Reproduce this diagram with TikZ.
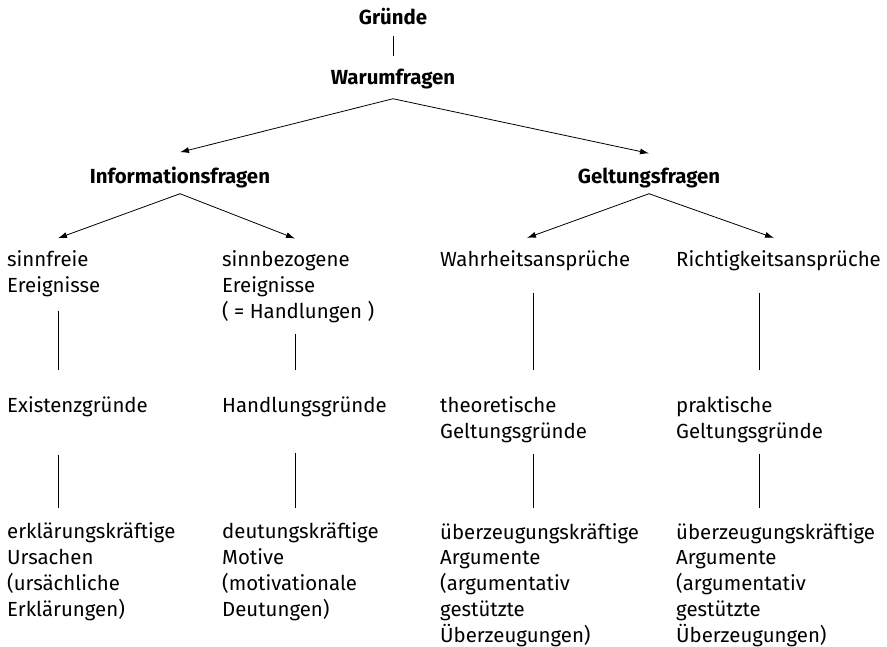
\documentclass[tikz,border=0pt]{standalone}
\usepackage{fontspec}
\setmainfont{Fira Sans}
\usetikzlibrary{arrows.meta}

\begin{document}
\begin{tikzpicture}[x=1pt,y=-1pt,
  every node/.style={inner sep=0pt,font=\fontsize{20.4}{25.7}\selectfont},
  title/.style={anchor=base,font=\fontsize{20.4}{25.7}\selectfont\bfseries},
  txt/.style={anchor=base west,align=left},
  con/.style={line width=0.8pt},
  arr/.style={con,-{Latex[length=9pt,width=6pt]}}]
\useasboundingbox (0,0) rectangle (887,646);

% columns of the vertical lines
\coordinate (k1) at (58,0);
\coordinate (k2) at (295,0);
\coordinate (k3) at (533,0);
\coordinate (k4) at (759,0);

\node[title] (gruende) at (393,24) {Gründe};
\node[title] (warum) at (393,84) {Warumfragen};
\node[title] (info) at (180,183) {Informationsfragen};
\node[title] (geltung) at (649,183) {Geltungsfragen};

% first row (base = last line)
\node[txt] (sinnfrei) at (7,292) {sinnfreie\\Ereignisse};
\node[txt] (sinnbez) at (222,318) {sinnbezogene\\Ereignisse\\( = Handlungen )};
\node[txt] (wahr) at (440,266) {Wahrheitsansprüche};
\node[txt] (richtig) at (676,266) {Richtigkeitsansprüche};

% second row
\node[txt] (exist) at (7,412) {Existenzgründe};
\node[txt] (handl) at (222,412) {Handlungsgründe};
\node[txt] (theo) at (440,438) {theoretische\\Geltungsgründe};
\node[txt] (prakt) at (676,438) {praktische\\Geltungsgründe};

% third row
\node[txt] (ursachen) at (7,616) {erklärungskräftige\\Ursachen\\(ursächliche\\Erklärungen)};
\node[txt] (motive) at (222,616) {deutungskräftige\\Motive\\(motivationale\\Deutungen)};
\node[txt] (argtheo) at (440,642) {überzeugungskräftige\\Argumente\\(argumentativ\\gestützte\\Überzeugungen)};
\node[txt] (argprakt) at (676,642) {überzeugungskräftige\\Argumente\\(argumentativ\\gestützte\\Überzeugungen)};

\draw[con,shorten <=11pt,shorten >=12pt] (gruende) -- (warum);

\draw[arr] ([yshift=-10pt]warum.south) -- ([yshift=14pt]info.north);
\draw[arr] ([yshift=-10pt]warum.south) -- ([yshift=14pt]geltung.north);
\draw[arr] ([yshift=-6pt]info.south) -- ([yshift=12pt]sinnfrei.north -| k1);
\draw[arr] ([yshift=-6pt]info.south) -- ([yshift=12pt]sinnbez.north -| k2);
\draw[arr] ([yshift=-6pt]geltung.south) -- ([yshift=12pt,xshift=-6pt]wahr.north -| k3);
\draw[arr] ([yshift=-6pt]geltung.south) -- ([yshift=12pt,xshift=15pt]richtig.north -| k4);

\draw[con,shorten <=14pt,shorten >=26pt] (sinnfrei.south -| k1) -- (exist.north -| k1);
\draw[con,shorten <=11pt,shorten >=26pt] (sinnbez.south -| k2) -- (handl.north -| k2);
\draw[con,shorten <=22pt,shorten >=26pt] (wahr.south -| k3) -- (theo.north -| k3);
\draw[con,shorten <=22pt,shorten >=26pt] (richtig.south -| k4) -- (prakt.north -| k4);

\draw[con,shorten <=38pt,shorten >=15pt] (exist.south -| k1) -- (ursachen.north -| k1);
\draw[con,shorten <=36pt,shorten >=15pt] (handl.south -| k2) -- (motive.north -| k2);
\draw[con,shorten <=11pt,shorten >=15pt] (theo.south -| k3) -- (argtheo.north -| k3);
\draw[con,shorten <=11pt,shorten >=15pt] (prakt.south -| k4) -- (argprakt.north -| k4);
\end{tikzpicture}
\end{document}
